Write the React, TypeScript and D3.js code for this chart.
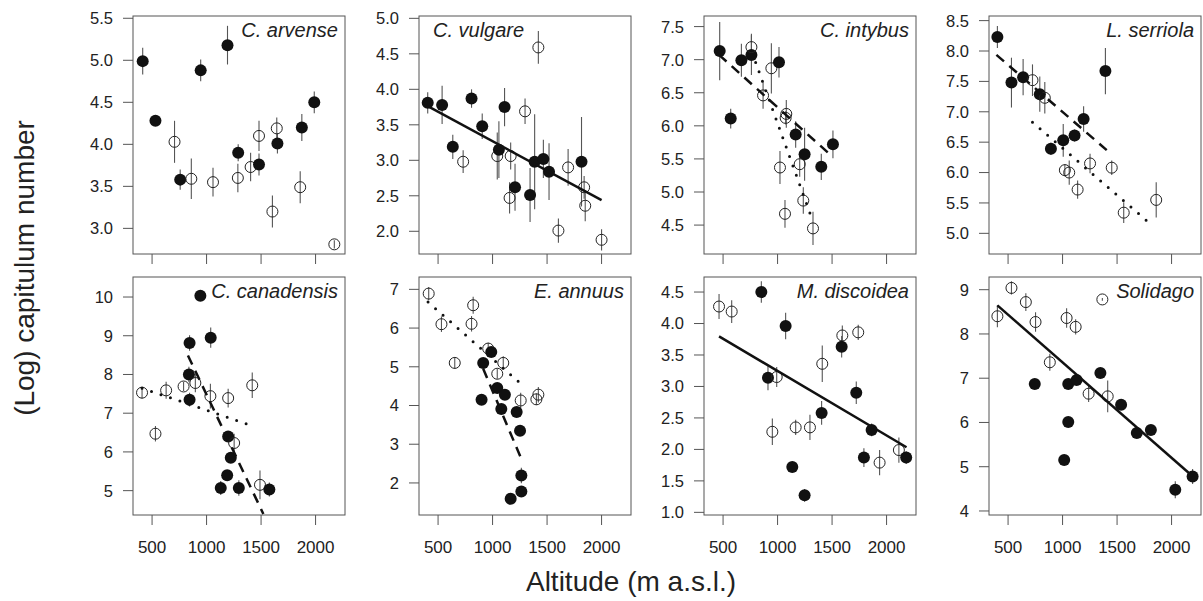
import React from "react";
import * as d3 from "d3";

// ---- data -------------------------------------------------------------
const species = ["C. arvense", "C. vulgare", "C. intybus", "L. serriola", "C. canadensis", "E. annuus", "M. discoidea", "Solidago"];
const labelAnchor = ["end", "start", "end", "end", "end", "end", "end", "end"];
const xTicks = [500, 1000, 1500, 2000];
const xDomain = [325, 2270];
const yDomains = [[2.695, 5.527], [1.68, 5.033], [4.063, 7.66], [4.66, 8.576], [4.371, 10.517], [1.172, 7.319], [0.958, 4.739], [3.909, 9.287]];
const yTicks = [
  [3, 3.5, 4, 4.5, 5, 5.5],
  [2, 2.5, 3, 3.5, 4, 4.5, 5],
  [4.5, 5, 5.5, 6, 6.5, 7, 7.5],
  [5, 5.5, 6, 6.5, 7, 7.5, 8, 8.5],
  [5, 6, 7, 8, 9, 10],
  [2, 3, 4, 5, 6, 7],
  [1, 1.5, 2, 2.5, 3, 3.5, 4, 4.5],
  [4, 5, 6, 7, 8, 9],
];
const yDecimals = [1, 1, 1, 1, 0, 0, 1, 0];

// [altitude, log capitulum number, error half-width, filled (1) / open (0)]
const arvense = [
  [414, 4.99, 0.16, 1], [531, 4.28, 0.06, 1], [706, 4.03, 0.25, 0], [758, 3.58, 0.12, 1],
  [860, 3.59, 0.24, 0], [946, 4.88, 0.13, 1], [1059, 3.55, 0.17, 0], [1192, 5.18, 0.23, 1],
  [1287, 3.6, 0.17, 0], [1290, 3.9, 0.1, 1], [1404, 3.73, 0.17, 0], [1481, 3.76, 0.13, 1],
  [1481, 4.1, 0.18, 0], [1650, 4.01, 0.12, 1], [1644, 4.19, 0.13, 0], [1604, 3.2, 0.19, 0],
  [1874, 4.2, 0.16, 1], [1859, 3.49, 0.19, 0], [1988, 4.5, 0.13, 1], [2172, 2.81, 0.05, 0],
];
const vulgare = [
  [405, 3.81, 0.15, 1], [537, 3.78, 0.27, 1], [635, 3.19, 0.17, 1], [730, 2.98, 0.16, 0],
  [807, 3.87, 0.13, 1], [905, 3.48, 0.18, 1], [1043, 3.06, 0.33, 0], [1058, 3.15, 0.4, 1],
  [1110, 3.75, 0.27, 1], [1166, 3.06, 0.19, 0], [1156, 2.47, 0.22, 0], [1206, 2.62, 0.33, 1],
  [1298, 3.69, 0.18, 0], [1344, 2.51, 0.38, 1], [1420, 4.59, 0.23, 0], [1386, 2.98, 0.67, 1],
  [1466, 3.02, 0.27, 1], [1518, 2.84, 0.4, 1], [1604, 2.01, 0.17, 0], [1693, 2.9, 0.26, 0],
  [1816, 2.98, 0.63, 1], [1840, 2.62, 0.16, 0], [1850, 2.36, 0.22, 0], [2000, 1.88, 0.15, 0],
];
const intybus = [
  [469, 7.13, 0.44, 1], [570, 6.11, 0.15, 1], [668, 6.99, 0.25, 1], [760, 7.07, 0.3, 1],
  [760, 7.19, 0.2, 0], [867, 6.46, 0.2, 0], [943, 6.87, 0.38, 0], [1013, 6.96, 0.23, 1],
  [1080, 6.18, 0.21, 0], [1074, 6.12, 0.1, 0], [1166, 5.87, 0.2, 1], [1022, 5.37, 0.25, 0],
  [1248, 5.57, 0.4, 1], [1203, 5.42, 0.19, 0], [1068, 4.67, 0.21, 0], [1236, 4.87, 0.2, 0],
  [1325, 4.45, 0.25, 0], [1401, 5.38, 0.2, 1], [1508, 5.72, 0.21, 1],
];
const serriola = [
  [402, 8.23, 0.18, 1], [531, 7.48, 0.41, 1], [638, 7.57, 0.3, 1], [724, 7.52, 0.26, 0],
  [791, 7.29, 0.29, 1], [837, 7.23, 0.26, 0], [893, 6.39, 0.1, 1], [1006, 6.53, 0.27, 1],
  [1021, 6.04, 0.1, 0], [1061, 6.0, 0.2, 0], [1110, 6.61, 0.1, 1], [1138, 5.72, 0.15, 0],
  [1193, 6.88, 0.21, 1], [1252, 6.15, 0.16, 0], [1393, 7.67, 0.38, 1], [1451, 6.08, 0.12, 0],
  [1561, 5.34, 0.17, 0], [1859, 5.55, 0.29, 0],
];
const canadensis = [
  [408, 7.53, 0.15, 0], [531, 6.47, 0.2, 0], [629, 7.59, 0.22, 0], [789, 7.69, 0.12, 0],
  [844, 8.81, 0.2, 1], [838, 8.0, 0.2, 1], [844, 7.35, 0.18, 1], [897, 7.78, 0.24, 0],
  [943, 10.03, 0.12, 1], [1038, 8.95, 0.26, 1], [1035, 7.44, 0.32, 0], [1198, 7.39, 0.24, 0],
  [1198, 6.4, 0.12, 1], [1253, 6.23, 0.24, 0], [1222, 5.85, 0.12, 1], [1189, 5.4, 0.1, 1],
  [1130, 5.07, 0.18, 1], [1296, 5.07, 0.2, 1], [1419, 7.72, 0.33, 0], [1490, 5.15, 0.37, 0],
  [1576, 5.03, 0.18, 1],
];
const annuus = [
  [414, 6.89, 0.17, 0], [531, 6.1, 0.2, 0], [653, 5.1, 0.15, 0], [822, 6.59, 0.22, 0],
  [807, 6.11, 0.2, 0], [960, 5.47, 0.15, 0], [988, 5.38, 0.1, 1], [914, 5.1, 0.1, 1],
  [1098, 5.1, 0.17, 0], [1043, 4.82, 0.13, 0], [899, 4.15, 0.08, 1], [1043, 4.45, 0.1, 1],
  [1113, 4.28, 0.1, 1], [1080, 3.91, 0.1, 1], [1258, 4.13, 0.2, 0], [1221, 3.83, 0.1, 1],
  [1252, 3.35, 0.08, 1], [1420, 4.28, 0.2, 0], [1402, 4.16, 0.15, 0], [1264, 2.19, 0.2, 1],
  [1264, 1.78, 0.08, 1], [1166, 1.59, 0.05, 1],
];
const discoidea = [
  [463, 4.27, 0.2, 0], [579, 4.19, 0.18, 0], [851, 4.5, 0.17, 1], [912, 3.14, 0.2, 1],
  [992, 3.15, 0.16, 0], [952, 2.28, 0.21, 0], [1074, 3.96, 0.21, 1], [1135, 1.72, 0.08, 1],
  [1166, 2.35, 0.12, 0], [1297, 2.35, 0.2, 0], [1248, 1.27, 0.1, 1], [1410, 3.36, 0.29, 0],
  [1404, 2.58, 0.19, 1], [1594, 3.81, 0.16, 0], [1588, 3.63, 0.17, 1], [1740, 3.86, 0.12, 0],
  [1722, 2.9, 0.18, 1], [1863, 2.31, 0.1, 1], [1792, 1.87, 0.15, 1], [1936, 1.79, 0.2, 0],
  [2113, 1.99, 0.2, 0], [2180, 1.87, 0.1, 1],
];
const solidago = [
  [402, 8.4, 0.25, 0], [531, 9.04, 0.15, 0], [663, 8.72, 0.2, 0], [752, 8.27, 0.22, 0],
  [883, 7.36, 0.19, 0], [745, 6.87, 0.05, 1], [1037, 8.36, 0.22, 0], [1120, 8.16, 0.17, 0],
  [1052, 6.87, 0.05, 1], [1129, 6.96, 0.05, 1], [1052, 6.01, 0.05, 1], [1015, 5.15, 0.05, 1],
  [1239, 6.65, 0.19, 0], [1347, 7.12, 0.05, 1], [1365, 8.78, 0.03, 0], [1414, 6.59, 0.36, 0],
  [1537, 6.4, 0.12, 1], [1681, 5.76, 0.05, 1], [1810, 5.83, 0.05, 1], [2034, 4.48, 0.19, 1],
  [2193, 4.78, 0.17, 1],
];
const panelData = [arvense, vulgare, intybus, serriola, canadensis, annuus, discoidea, solidago];

// fitted lines: [style, alt1, value1, alt2, value2]
const fitLines = [
  [],
  [["solid", 405, 3.762, 2000, 2.439]],
  [["dashed", 463, 7.073, 1481, 5.568], ["dotted", 799, 6.958, 1319, 4.58]],
  [["dashed", 393, 7.937, 1405, 6.37], ["dotted", 724, 6.829, 1798, 5.168]],
  [["dashed", 829, 8.491, 1521, 4.397], ["dotted", 408, 7.647, 1382, 6.707]],
  [["dashed", 914, 4.948, 1273, 2.56], ["dotted", 408, 6.672, 1288, 4.491]],
  [["solid", 463, 3.795, 2183, 2.034]],
  [["solid", 402, 8.646, 2193, 4.784]],
];

// ---- layout -----------------------------------------------------------
const W = 1203;
const H = 601;
const colLeft = [133, 419, 704, 989];
const rowTop = [16, 277];
const PW = 212;
const PH = 238;
const FONT = "'Liberation Sans', Arial, Helvetica, sans-serif";

function Panel({ i }: { i: number }) {
  const col = i % 4;
  const row = Math.floor(i / 4);
  const x0 = colLeft[col];
  const y0 = rowTop[row];
  const x = d3.scaleLinear().domain(xDomain).range([x0, x0 + PW]);
  const y = d3.scaleLinear().domain(yDomains[i]).range([y0 + PH, y0]);
  const data = panelData[i];
  const lineGen = d3.line<number[]>().x((d) => x(d[0])).y((d) => y(d[1]));
  const fmt = d3.format(yDecimals[i] ? ".1f" : "d");
  const anchor = labelAnchor[i];
  return (
    <g>
      <rect x={x0} y={y0} width={PW} height={PH} fill="none" stroke="#555" strokeWidth={1} />
      {yTicks[i].map((t) => (
        <g key={"y" + t}>
          <line x1={x0 - 10} x2={x0} y1={y(t)} y2={y(t)} stroke="#555" strokeWidth={1} />
          <text x={x0 - 20} y={y(t)} dy="0.36em" textAnchor="end" fontSize={16.5} fill="#222" fontFamily={FONT}>
            {fmt(t)}
          </text>
        </g>
      ))}
      {xTicks.map((t) => (
        <g key={"x" + t}>
          <line x1={x(t)} x2={x(t)} y1={y0 + PH} y2={y0 + PH + 10} stroke="#555" strokeWidth={1} />
          {row === 1 && (
            <text x={x(t)} y={y0 + PH + 38} textAnchor="middle" fontSize={17} fill="#222" fontFamily={FONT}>
              {t}
            </text>
          )}
        </g>
      ))}
      {data.map((d, k) => (
        <line key={"e" + k} x1={x(d[0])} x2={x(d[0])} y1={y(d[1] - d[2])} y2={y(d[1] + d[2])} stroke="#555" strokeWidth={1.1} />
      ))}
      {data.map((d, k) =>
        d[3] ? (
          <circle key={"p" + k} cx={x(d[0])} cy={y(d[1])} r={6} fill="#111" />
        ) : (
          <circle key={"p" + k} cx={x(d[0])} cy={y(d[1])} r={5.5} fill="none" stroke="#222" strokeWidth={1} />
        )
      )}
      {fitLines[i].map((l: any, k: number) => (
        <path
          key={"l" + k}
          d={lineGen([[l[1], l[2]], [l[3], l[4]]]) || ""}
          fill="none"
          stroke="#111"
          strokeWidth={l[0] === "dotted" ? 3 : 2.5}
          strokeDasharray={l[0] === "dashed" ? "10,7" : l[0] === "dotted" ? "0,10" : undefined}
          strokeLinecap={l[0] === "dotted" ? "round" : "butt"}
        />
      ))}
      <text
        x={anchor === "end" ? x0 + PW - 7 : x0 + 14}
        y={y0 + 21}
        textAnchor={anchor}
        fontSize={20}
        fontStyle="italic"
        fill="#222"
        fontFamily={FONT}
      >
        {species[i]}
      </text>
    </g>
  );
}

export default function App() {
  return (
    <svg width={W} height={H} style={{ position: "absolute", left: 0, top: 0, background: "#fff" }}>
      <rect width={W} height={H} fill="#fff" />
      {species.map((_, i) => (
        <Panel key={i} i={i} />
      ))}
      <text x={631} y={591} textAnchor="middle" fontSize={28} fill="#222" fontFamily={FONT}>
        Altitude (m a.s.l.)
      </text>
      <text transform="translate(34,268) rotate(-90)" textAnchor="middle" fontSize={28} fill="#222" fontFamily={FONT}>
        (Log) capitulum number
      </text>
    </svg>
  );
}
